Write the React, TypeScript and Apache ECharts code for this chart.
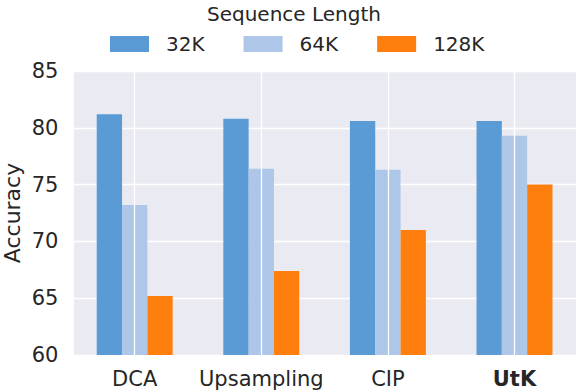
import React, { useEffect, useRef } from "react";
import * as echarts from "echarts";

const categories = ["DCA", "Upsampling", "CIP", "UtK"];
const seriesNames = ["32K", "64K", "128K"];
const values32K = [81.2, 80.8, 80.6, 80.6];
const values64K = [73.2, 76.4, 76.3, 79.3];
const values128K = [65.2, 67.4, 71.0, 75.0];
const colors = ["#5B9BD5", "#AEC7E8", "#FF7F0E"];
const yMin = 60;
const yMax = 85;
const yInterval = 5;
const yTitle = "Accuracy";
const legendTitle = "Sequence Length";

const FONT = "DejaVu Sans";
const TEXT = "#262626";

export default function App() {
  const ref = useRef<HTMLDivElement>(null);
  useEffect(() => {
    if (!ref.current) return;
    const chart = echarts.init(ref.current, undefined, { renderer: "svg" });
    const data = [values32K, values64K, values128K];
    chart.setOption({
      animation: false,
      textStyle: { fontFamily: FONT },
      grid: {
        left: 71.4,
        right: -1.8,
        top: 71,
        bottom: 37,
        show: false,
        containLabel: false,
        outerBoundsMode: "none",
      },
      graphic: [
        {
          type: "rect",
          z: -10,
          shape: { x: 74, y: 71, width: 510, height: 284 },
          style: { fill: "#EAEAF2" },
          silent: true,
        },
        {
          type: "text",
          x: 294,
          y: 14,
          style: {
            text: legendTitle,
            fontFamily: FONT,
            fontSize: 20,
            fill: TEXT,
            textAlign: "center",
            textVerticalAlign: "middle",
          },
        },
        {
          type: "text",
          x: 12,
          y: 213,
          rotation: Math.PI / 2,
          style: {
            text: yTitle,
            fontFamily: FONT,
            fontSize: 22,
            fill: TEXT,
            textAlign: "center",
            textVerticalAlign: "middle",
          },
        },
      ],
      legend: {
        data: seriesNames,
        left: 110,
        top: 32,
        itemWidth: 39,
        itemHeight: 16,
        itemGap: 39,
        icon: "rect",
        textStyle: { fontFamily: FONT, fontSize: 20, color: TEXT, padding: [0, 0, 0, 12], lineHeight: 24 },
        padding: 0,
      },
      xAxis: {
        type: "category",
        data: categories,
        axisLine: { show: false },
        axisTick: { show: false },
        splitLine: { show: false },
        axisLabel: {
          interval: 0,
          fontFamily: FONT,
          fontSize: 21,
          color: TEXT,
          margin: 13,
          formatter: (v: string) => (v === "UtK" ? "{b|" + v + "}" : v),
          rich: { b: { fontWeight: "bold", fontFamily: FONT, fontSize: 21, color: TEXT } },
        },
      },
      yAxis: {
        type: "value",
        min: yMin,
        max: yMax,
        interval: yInterval,
        axisLine: { show: false },
        axisTick: { show: false },
        axisLabel: { fontFamily: FONT, fontSize: 21, color: TEXT, margin: 13 },
        splitLine: { show: true, lineStyle: { color: "#FFFFFF", width: 1.3 } },
      },
      series: [
        ...seriesNames.map((name, i) => ({
          name,
          type: "bar",
          data: data[i],
          z: 3,
          barGap: "0%",
          barCategoryGap: "40%",
          itemStyle: { color: colors[i] },
        })),
        {
          name: "vgrid",
          type: "line",
          data: [],
          z: 1,
          silent: true,
          markLine: {
            silent: true,
            symbol: "none",
            label: { show: false },
            lineStyle: { color: "#FFFFFF", width: 1.3, type: "solid" },
            data: categories.map((c) => ({ xAxis: c })),
          },
        },
      ],
    });
    return () => chart.dispose();
  }, []);
  return (
    <div
      ref={ref}
      style={{ position: "absolute", left: 0, top: 0, width: 576, height: 392 }}
    />
  );
}
